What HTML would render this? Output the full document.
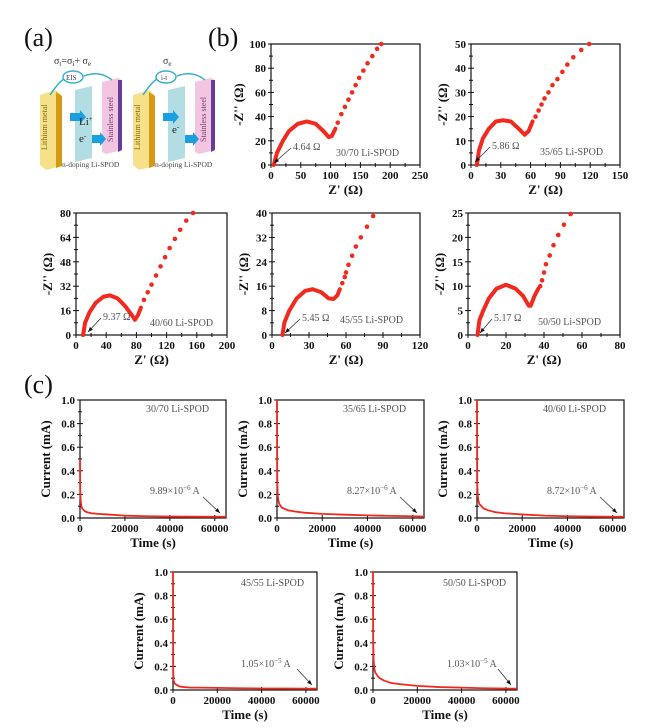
<!DOCTYPE html>
<html><head><meta charset="utf-8"><style>
body{margin:0;background:#fff;}
svg{display:block;font-family:"Liberation Serif",serif;}
.tk{font-weight:bold;font-size:11px;fill:#111;}
.ttl{font-weight:bold;font-size:13px;fill:#111;}
.ann{font-size:10px;fill:#555;}
</style></head><body>
<svg id="fig" width="655" height="728" viewBox="0 0 655 728" xmlns="http://www.w3.org/2000/svg">
<g>
<text x="24" y="46" font-size="26" fill="#111">(a)</text>
<text x="208" y="46" font-size="26" fill="#111">(b)</text>
<text x="24" y="393" font-size="26" fill="#111">(c)</text>
<g>
<polygon points="75,90 92,86 92,158 75,162" fill="#9fd6dc" opacity="0.8"/>
<polygon points="102,82 118,78 122,80 122,150 106,154 102,152" fill="#f2c6e0"/>
<polygon points="118,80 122,80 122,150 118,152" fill="#6a3c9a"/>
<polygon points="40,95 56,90 62,96 62,166 46,170 40,165" fill="#f6e08a"/>
<polygon points="56,92 62,96 62,166 56,168" fill="#d49a14"/>
<text x="47" y="150" font-size="8" fill="#8a6a10" transform="rotate(-90 47 150)">Lithium metal</text>
<text x="113" y="142" font-size="8" fill="#7a3a6a" transform="rotate(-90 113 142)">Stainless steel</text>
<path d="M50,95 Q60,80 66,78 M84,76 Q100,70 112,80" stroke="#3bb0c8" stroke-width="1.5" fill="none"/>
<ellipse cx="73" cy="77" rx="10" ry="6" fill="#fff" stroke="#3bb0c8" stroke-width="1.5"/>
<text x="66" y="80" font-size="7" fill="#335">EIS</text>
<text x="54" y="64" font-size="10" fill="#333">σ<tspan font-size="7" dy="2">t</tspan><tspan dy="-2">=σ</tspan><tspan font-size="7" dy="2">i</tspan><tspan dy="-2">+ σ</tspan><tspan font-size="7" dy="2">e</tspan></text>
<polygon points="70,113 80,113 80,110 86,117 80,124 80,121 70,121" fill="#1a9fe0"/>
<polygon points="92,135 100,135 100,132 106,139 100,146 100,143 92,143" fill="#1a9fe0"/>
<text x="79" y="125" font-size="11" fill="#222">Li<tspan font-size="7" dy="-4">+</tspan></text>
<text x="79" y="142" font-size="11" fill="#222">e<tspan font-size="7" dy="-4">-</tspan></text>
<text x="62" y="167" font-size="7.5" fill="#444">n-doping Li-SPOD</text>
</g>
<g transform="translate(93,0)">
<polygon points="75,90 92,86 92,158 75,162" fill="#9fd6dc" opacity="0.8"/>
<polygon points="102,82 118,78 122,80 122,150 106,154 102,152" fill="#f2c6e0"/>
<polygon points="118,80 122,80 122,150 118,152" fill="#6a3c9a"/>
<polygon points="40,95 56,90 62,96 62,166 46,170 40,165" fill="#f6e08a"/>
<polygon points="56,92 62,96 62,166 56,168" fill="#d49a14"/>
<text x="47" y="150" font-size="8" fill="#8a6a10" transform="rotate(-90 47 150)">Lithium metal</text>
<text x="113" y="142" font-size="8" fill="#7a3a6a" transform="rotate(-90 113 142)">Stainless steel</text>
<path d="M50,95 Q60,80 66,78 M84,76 Q100,70 112,80" stroke="#3bb0c8" stroke-width="1.5" fill="none"/>
<ellipse cx="73" cy="77" rx="10" ry="6" fill="#fff" stroke="#3bb0c8" stroke-width="1.5"/>
<text x="68" y="80" font-size="7" fill="#335">i-t</text>
<text x="70" y="64" font-size="10" fill="#333">σ<tspan font-size="7" dy="2">e</tspan></text>
<polygon points="70,113 80,113 80,110 86,117 80,124 80,121 70,121" fill="#1a9fe0"/>
<polygon points="92,135 100,135 100,132 106,139 100,146 100,143 92,143" fill="#1a9fe0"/>
<text x="79" y="133" font-size="11" fill="#222">e<tspan font-size="7" dy="-4">-</tspan></text>
<text x="62" y="167" font-size="7.5" fill="#444">n-doping Li-SPOD</text>
</g>
</g>
<g id="plots"></g>
</svg>
<script>
// EIS data [Z', -Z'']
const b1Arc=[[4.6,0],[10,10],[20,20],[30,28],[45,34],[60,36],[75,34],[88,28],[97,23],[102,24],[108,30]];
const b1Dots=[[112,35],[118,42],[124,48],[130,54],[136,60],[142,66],[148,72],[155,78],[162,84],[170,90],[178,96],[185,100]];
const b2Arc=[[5.9,0],[8,6],[12,11],[18,15],[25,18],[32,18.5],[40,18],[48,15],[54,12.5],[58,14],[62,18]];
const b2Dots=[[65,20],[68,22.5],[71,25],[74,27.5],[78,30],[82,33],[87,35.5],[92,38.5],[97,41.5],[103,44.5],[111,47.5],[119,50]];
const b3Arc=[[9.4,0],[12,8],[18,15],[26,21],[36,25],[45,26],[55,24],[65,19],[74,13],[78,10],[82,13],[86,18]];
const b3Dots=[[90,23],[95,28],[100,33],[106,39],[112,45],[118,51],[124,57],[131,63],[138,69],[146,75],[155,80]];
const b4Arc=[[8.5,0],[10,4],[14,8],[20,12],[27,14.5],[33,15],[40,14],[46,12],[50,11.8],[53,13],[55,15]];
const b4Dots=[[57,17],[59,19],[60,20.5],[62,23],[65,26],[68,29],[72,32],[77,35.5],[82,39]];
const b5Arc=[[5,0],[6,3],[8,5],[11,7.5],[15,9.5],[20,10.3],[25,9.5],[29,8],[32,6],[33,6],[35,8],[37,9.5]];
const b5Dots=[[38,10],[39,11.2],[40,12.8],[41,14.5],[43,16.3],[45,18.4],[47.5,20.5],[50.5,22.6],[54,24.8]];
const b1XTicks=[0,50,100,150,200,250], b1YTicks=[0,20,40,60,80,100];
const b2XTicks=[0,30,60,90,120,150], b2YTicks=[0,10,20,30,40,50];
const b3XTicks=[0,40,80,120,160,200], b3YTicks=[0,16,32,48,64,80];
const b4XTicks=[0,30,60,90,120], b4YTicks=[0,8,16,24,32,40];
const b5XTicks=[0,20,40,60,80], b5YTicks=[0,5,10,15,20,25];
// i-t data
const times=[0,100,300,600,1000,2000,3000,5000,8000,12000,20000,30000,40000,50000,60000,65000];
const c1Cur=[0.5,0.25,0.15,0.1,0.08,0.06,0.05,0.04,0.035,0.03,0.02,0.015,0.012,0.011,0.01,0.01];
const c2Cur=[1.0,0.35,0.2,0.15,0.12,0.09,0.08,0.065,0.055,0.045,0.035,0.028,0.022,0.018,0.015,0.013];
const c3Cur=[1.0,0.3,0.2,0.15,0.12,0.1,0.08,0.065,0.05,0.04,0.03,0.02,0.015,0.012,0.01,0.01];
const c4Cur=[1.0,0.15,0.08,0.06,0.05,0.04,0.03,0.025,0.02,0.02,0.018,0.015,0.013,0.012,0.011,0.011];
const c5Cur=[1.0,0.4,0.25,0.18,0.15,0.12,0.1,0.08,0.06,0.05,0.035,0.025,0.02,0.015,0.012,0.011];
const cXTicks=[0,20000,40000,60000], cYTicks=[0,0.2,0.4,0.6,0.8,1.0];

const NS='http://www.w3.org/2000/svg';
const root=document.getElementById('plots');
function mk(tag,attrs,parent,txt){const e=document.createElementNS(NS,tag);for(const k in attrs)e.setAttribute(k,attrs[k]);if(txt!==undefined)e.textContent=txt;parent.appendChild(e);return e;}

function plot(o){
  const g=mk('g',{},root);
  
  
  const xs=v=>o.x0+(v-o.xd[0])/(o.xd[1]-o.xd[0])*(o.x1-o.x0);
  const ys=v=>o.y1-(v-o.yd[0])/(o.yd[1]-o.yd[0])*(o.y1-o.y0);
  const fr=mk('rect',{x:o.x0,y:o.y0,width:o.x1-o.x0,height:o.y1-o.y0,fill:'#fff',stroke:'#111','stroke-width':1.2},g);
  
  
  o.xt.forEach((v,i)=>{const x=xs(v);
    mk('line',{x1:x,x2:x,y1:o.y1-3,y2:o.y1+3,stroke:'#111'},g);
    if(i<o.xt.length-1&&o.minor){const xm=xs((v+o.xt[i+1])/2);mk('line',{x1:xm,x2:xm,y1:o.y1-2,y2:o.y1+2,stroke:'#111'},g);}
    const t=mk('text',{x:x,y:o.y1+14,'text-anchor':'middle',class:'tk'},g,o.xf?o.xf(v):v);
    
    
  });
  o.yt.forEach((v,i)=>{const y=ys(v);
    mk('line',{x1:o.x0-3,x2:o.x0+3,y1:y,y2:y,stroke:'#111'},g);
    if(i<o.yt.length-1){const ym=ys((v+o.yt[i+1])/2);mk('line',{x1:o.x0-2,x2:o.x0+2,y1:ym,y2:ym,stroke:'#111'},g);}
    const t=mk('text',{x:o.x0-5,y:y+4,'text-anchor':'end',class:'tk'},g,o.yf?o.yf(v):v);
    
    
  });
  const xt=mk('text',{x:(o.x0+o.x1)/2,y:o.y1+29,'text-anchor':'middle',class:'ttl'},g,o.xl);
  
  
  const yx=o.x0-o.yoff,yy=(o.y0+o.y1)/2;
  const yt=mk('text',{x:yx,y:yy,'text-anchor':'middle',class:'ttl',transform:`rotate(-90 ${yx} ${yy})`},g,o.yl);
  
  
  if(o.arc){
    const p=mk('polyline',{points:o.arc.map(d=>xs(d[0])+','+ys(d[1])).join(' '),fill:'none',stroke:'#f02a1e','stroke-width':4,'stroke-linejoin':'round','stroke-linecap':'round'},g);
    
    
    o.dots.forEach(d=>{const c=mk('circle',{cx:xs(d[0]),cy:ys(d[1]),r:2.3,fill:'#f02a1e'},g);
      
      });
  }
  if(o.cur){
    const p=mk('polyline',{points:o.cur.map((c,i)=>xs(times[i])+','+ys(c)).join(' '),fill:'none',stroke:'#f02a1e','stroke-width':1.8},g);
    
    
  }
  const s=mk('text',{x:o.sx,y:o.sy,class:'ann'},g,o.sample);
  
  
  const a=mk('text',{x:o.ax,y:o.ay,class:'ann'},g);
  
  
  a.innerHTML=o.ann;
  mk('line',{x1:o.arr[0],y1:o.arr[1],x2:o.arr[2],y2:o.arr[3],stroke:'#333','stroke-width':0.8},g);
  const dx=o.arr[2]-o.arr[0],dy=o.arr[3]-o.arr[1],L=Math.hypot(dx,dy),ux=dx/L,uy=dy/L;
  const hx=o.arr[2],hy=o.arr[3];
  mk('polygon',{points:`${hx},${hy} ${hx-5*ux-2*uy},${hy-5*uy+2*ux} ${hx-5*ux+2*uy},${hy-5*uy-2*ux}`,fill:'#111'},g);
}
const ZX="Z' (Ω)", ZY="-Z'' (Ω)";
plot({name:'eis-30-70',x0:271,x1:420,y0:44,y1:165,xd:[0,250],yd:[0,100],xt:b1XTicks,yt:b1YTicks,minor:true,xl:ZX,yl:ZY,yoff:28,arc:b1Arc,dots:b1Dots,sample:'30/70 Li-SPOD',sx:336,sy:156,ann:'4.64 Ω',ax:293,ay:150,arr:[291,148,274,163]});
plot({name:'eis-35-65',x0:471,x1:620,y0:44,y1:165,xd:[0,150],yd:[0,50],xt:b2XTicks,yt:b2YTicks,minor:true,xl:ZX,yl:ZY,yoff:24,arc:b2Arc,dots:b2Dots,sample:'35/65 Li-SPOD',sx:540,sy:155,ann:'5.86 Ω',ax:492,ay:149,arr:[490,147,475,162]});
plot({name:'eis-40-60',x0:76,x1:227,y0:213,y1:335,xd:[0,200],yd:[0,80],xt:b3XTicks,yt:b3YTicks,minor:true,xl:ZX,yl:ZY,yoff:24,arc:b3Arc,dots:b3Dots,sample:'40/60 Li-SPOD',sx:150,sy:326,ann:'9.37 Ω',ax:103,ay:320,arr:[101,318,88,332]});
plot({name:'eis-45-55',x0:272,x1:420,y0:213,y1:335,xd:[0,120],yd:[0,40],xt:b4XTicks,yt:b4YTicks,minor:true,xl:ZX,yl:ZY,yoff:24,arc:b4Arc,dots:b4Dots,sample:'45/55 Li-SPOD',sx:340,sy:323,ann:'5.45 Ω',ax:302,ay:321,arr:[300,319,285,333]});
plot({name:'eis-50-50',x0:468,x1:620,y0:213,y1:335,xd:[0,80],yd:[0,25],xt:b5XTicks,yt:b5YTicks,minor:true,xl:ZX,yl:ZY,yoff:24,arc:b5Arc,dots:b5Dots,sample:'50/50 Li-SPOD',sx:538,sy:325,ann:'5.17 Ω',ax:494,ay:321,arr:[492,319,480,333]});
const fmt=v=>v.toFixed(1);
const CT='Current (mA)', TT='Time (s)';
plot({name:'it-30-70',x0:80,x1:226,y0:400,y1:518,xd:[0,65000],yd:[0,1],xt:cXTicks,yt:cYTicks,yf:fmt,xl:TT,yl:CT,yoff:30,cur:c1Cur,sample:'30/70 Li-SPOD',sx:146,sy:412,ann:'9.89×10<tspan font-size="7" dy="-4">−6</tspan><tspan dy="4"> A</tspan>',ax:150,ay:494,arr:[203,497,220,513]});
plot({name:'it-35-65',x0:277,x1:424,y0:400,y1:518,xd:[0,65000],yd:[0,1],xt:cXTicks,yt:cYTicks,yf:fmt,xl:TT,yl:CT,yoff:30,cur:c2Cur,sample:'35/65 Li-SPOD',sx:343,sy:412,ann:'8.27×10<tspan font-size="7" dy="-4">−6</tspan><tspan dy="4"> A</tspan>',ax:347,ay:494,arr:[400,497,417,513]});
plot({name:'it-40-60',x0:477,x1:624,y0:400,y1:518,xd:[0,65000],yd:[0,1],xt:cXTicks,yt:cYTicks,yf:fmt,xl:TT,yl:CT,yoff:30,cur:c3Cur,sample:'40/60 Li-SPOD',sx:543,sy:412,ann:'8.72×10<tspan font-size="7" dy="-4">−6</tspan><tspan dy="4"> A</tspan>',ax:547,ay:494,arr:[600,497,617,513]});
plot({name:'it-45-55',x0:173,x1:317,y0:572,y1:690,xd:[0,65000],yd:[0,1],xt:cXTicks,yt:cYTicks,yf:fmt,xl:TT,yl:CT,yoff:30,cur:c4Cur,sample:'45/55 Li-SPOD',sx:241,sy:586,ann:'1.05×10<tspan font-size="7" dy="-4">−5</tspan><tspan dy="4"> A</tspan>',ax:241,ay:667,arr:[297,669,312,685]});
plot({name:'it-50-50',x0:373,x1:517,y0:572,y1:690,xd:[0,65000],yd:[0,1],xt:cXTicks,yt:cYTicks,yf:fmt,xl:TT,yl:CT,yoff:30,cur:c5Cur,sample:'50/50 Li-SPOD',sx:443,sy:586,ann:'1.03×10<tspan font-size="7" dy="-4">−5</tspan><tspan dy="4"> A</tspan>',ax:447,ay:667,arr:[498,669,511,685]});
</script>
</body></html>
